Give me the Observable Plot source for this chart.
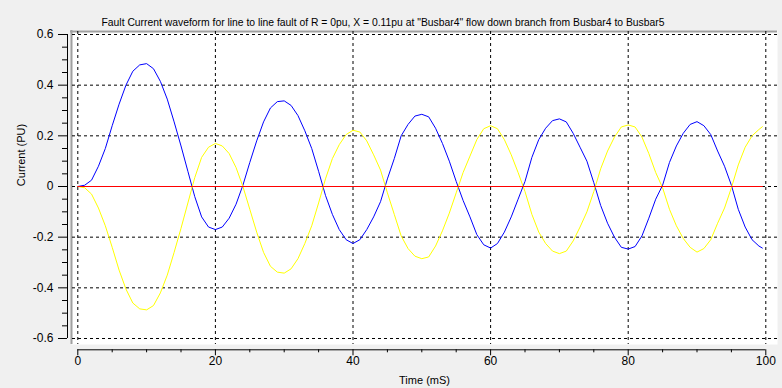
<!DOCTYPE html>
<html>
<head>
<meta charset="utf-8">
<script src="https://cdn.jsdelivr.net/npm/d3@7"></script>
<script src="https://cdn.jsdelivr.net/npm/@observablehq/plot@0.6"></script>
<style>
html, body { margin: 0; padding: 0; background: #f0f0f0; }
#chart { width: 782px; height: 388px; overflow: hidden; }
</style>
</head>
<body>
<div id="chart"></div>
<script>
const title = 'Fault Current waveform for line to line fault of R = 0pu, X = 0.11pu at "Busbar4" flow down branch from Busbar4 to Busbar5';
const xLabel = "Time (mS)";
const yLabel = "Current (PU)";

const xTicks = [0, 20, 40, 60, 80, 100];
const xMinorTicks = [5, 10, 15, 25, 30, 35, 45, 50, 55, 65, 70, 75, 85, 90, 95];
const yTicks = [-0.6, -0.4, -0.2, 0, 0.2, 0.4, 0.6];
const yMinorTicks = [-0.55, -0.5, -0.45, -0.35, -0.3, -0.25, -0.15, -0.1, -0.05,
                     0.05, 0.1, 0.15, 0.25, 0.3, 0.35, 0.45, 0.5, 0.55];

// time samples (ms)
const time = [
  0, 1, 2, 3, 4, 5, 6, 7, 8, 9,
  10, 11, 12, 13, 14, 15, 16, 17, 18, 19,
  20, 21, 22, 23, 24, 25, 26, 27, 28, 29,
  30, 31, 32, 33, 34, 35, 36, 37, 38, 39,
  40, 41, 42, 43, 44, 45, 46, 47, 48, 49,
  50, 51, 52, 53, 54, 55, 56, 57, 58, 59,
  60, 61, 62, 63, 64, 65, 66, 67, 68, 69,
  70, 71, 72, 73, 74, 75, 76, 77, 78, 79,
  80, 81, 82, 83, 84, 85, 86, 87, 88, 89,
  90, 91, 92, 93, 94, 95, 96, 97, 98, 99, 99.5
];
// blue phase current (PU)
const blueCurrent = [
  0, 0.005, 0.025, 0.08, 0.15, 0.24, 0.325, 0.40, 0.455, 0.48,
  0.485, 0.465, 0.415, 0.345, 0.255, 0.16, 0.06, -0.04, -0.12, -0.16,
  -0.17, -0.16, -0.125, -0.07, 0.005, 0.095, 0.18, 0.255, 0.31, 0.335,
  0.338, 0.32, 0.28, 0.22, 0.15, 0.06, -0.035, -0.11, -0.17, -0.21,
  -0.225, -0.21, -0.17, -0.12, -0.06, 0.03, 0.11, 0.2, 0.245, 0.278,
  0.285, 0.275, 0.23, 0.17, 0.1, 0.02, -0.055, -0.12, -0.19, -0.23,
  -0.243, -0.225, -0.18, -0.12, -0.05, 0.02, 0.115, 0.185, 0.23, 0.26,
  0.267, 0.255, 0.21, 0.155, 0.1, 0.015, -0.075, -0.145, -0.2, -0.24,
  -0.247, -0.237, -0.195, -0.125, -0.05, 0.005, 0.095, 0.16, 0.21, 0.245,
  0.256, 0.24, 0.205, 0.14, 0.08, 0.005, -0.09, -0.16, -0.21, -0.235, -0.243
];
// yellow phase current (PU)
const yellowCurrent = [
  0, -0.005, -0.03, -0.085, -0.155, -0.24, -0.33, -0.405, -0.46, -0.483,
  -0.487, -0.47, -0.42, -0.35, -0.26, -0.165, -0.065, 0.035, 0.115, 0.155,
  0.17, 0.16, 0.13, 0.075, 0, -0.09, -0.18, -0.26, -0.315, -0.338,
  -0.342, -0.325, -0.285, -0.225, -0.155, -0.065, 0.03, 0.11, 0.165, 0.205,
  0.222, 0.215, 0.18, 0.125, 0.065, -0.025, -0.11, -0.195, -0.245, -0.275,
  -0.285, -0.278, -0.235, -0.175, -0.105, -0.025, 0.055, 0.12, 0.185, 0.228,
  0.24, 0.228, 0.185, 0.125, 0.055, -0.02, -0.11, -0.18, -0.225, -0.255,
  -0.265, -0.255, -0.215, -0.16, -0.1, -0.02, 0.07, 0.14, 0.195, 0.235,
  0.243, 0.235, 0.195, 0.13, 0.055, -0.005, -0.09, -0.155, -0.205, -0.24,
  -0.259, -0.245, -0.21, -0.145, -0.085, -0.005, 0.085, 0.155, 0.2, 0.225, 0.236
];
// red phase current (PU) - flat zero
const redTime = [0, 99.5];
const redCurrent = [0, 0];

const blueData = time.map((t, i) => ({t, v: blueCurrent[i]}));
const yellowData = time.map((t, i) => ({t, v: yellowCurrent[i]}));
const redData = redTime.map((t, i) => ({t, v: redCurrent[i]}));

const W = 782, H = 388, ML = 67, MR = 5, MT = 30, MB = 38.7;
const frameW = W - ML - MR, frameH = H - MT - MB;
const font = "Liberation Sans, Arial, sans-serif";
const fmtY = d => d === 0 ? "0" : d.toFixed(1);
const grid = {stroke: "#000", strokeWidth: 1, strokeDasharray: "3,3"};

const plot = Plot.plot({
  width: W, height: H,
  marginLeft: ML, marginRight: MR, marginTop: MT, marginBottom: MB,
  style: {background: "transparent", fontFamily: font, fontSize: "12px", color: "#000"},
  x: {domain: [0, 100], axis: null, insetLeft: 10.3, insetRight: 11.7},
  y: {domain: [-0.6, 0.6], axis: null, insetTop: 4, insetBottom: 11.3},
  marks: [
    // white plotting area
    Plot.frame({fill: "white", stroke: null, insetLeft: 4, insetBottom: 5.3}),
    // sunken borders
    Plot.ruleX([0], {dx: -6.3, insetBottom: 5.3, stroke: "#a0a0a0", strokeWidth: 2}),
    Plot.ruleY([0.6], {dy: -3, insetLeft: 3, stroke: "#a0a0a0", strokeWidth: 2}),
    // grid
    Plot.ruleX(xTicks, {...grid, insetTop: 1, insetBottom: 5.3}),
    Plot.ruleY(yTicks, {...grid, insetLeft: 5}),
    // series
    Plot.line(blueData, {x: "t", y: "v", stroke: "#0000ff", strokeWidth: 1}),
    Plot.line(yellowData, {x: "t", y: "v", stroke: "#ffff00", strokeWidth: 1}),
    Plot.line(redData, {x: "t", y: "v", stroke: "#ff0000", strokeWidth: 1.2}),
    // y axis
    Plot.ruleX([0], {y1: -0.6, y2: 0.6, dx: -10.3, stroke: "#000"}),
    Plot.ruleY(yTicks, {insetLeft: -9, insetRight: frameW, stroke: "#000"}),
    Plot.ruleY(yMinorTicks, {insetLeft: -5, insetRight: frameW, stroke: "#000"}),
    Plot.text(yTicks, {y: d => d, text: fmtY, frameAnchor: "left", dx: -14, textAnchor: "end", fill: "#000", fontSize: 12}),
    // x axis
    Plot.ruleY([-0.6], {x1: 0, x2: 100, dy: 11.3, stroke: "#000"}),
    Plot.ruleX(xTicks, {insetTop: frameH, insetBottom: -6, stroke: "#000"}),
    Plot.ruleX(xMinorTicks, {insetTop: frameH, insetBottom: -3, stroke: "#000"}),
    Plot.text(xTicks, {x: d => d, text: d => String(d), frameAnchor: "bottom", dy: 15, fill: "#000", fontSize: 12}),
    // axis titles
    Plot.text([xLabel], {frameAnchor: "bottom", dy: 34, dx: 2, fill: "#000", fontSize: 11}),
    Plot.text([yLabel], {frameAnchor: "left", rotate: -90, dx: -46, dy: -4, fill: "#000", fontSize: 11}),
    // chart title
    Plot.text([title], {frameAnchor: "top", dy: -13, dx: -39.5, fill: "#000", fontSize: 11.5})
  ]
});

document.getElementById("chart").appendChild(plot);
d3.select(plot).selectAll("text")
  .filter(function() { return this.textContent === title; })
  .attr("textLength", 563)
  .attr("lengthAdjust", "spacingAndGlyphs");
</script>
</body>
</html>
